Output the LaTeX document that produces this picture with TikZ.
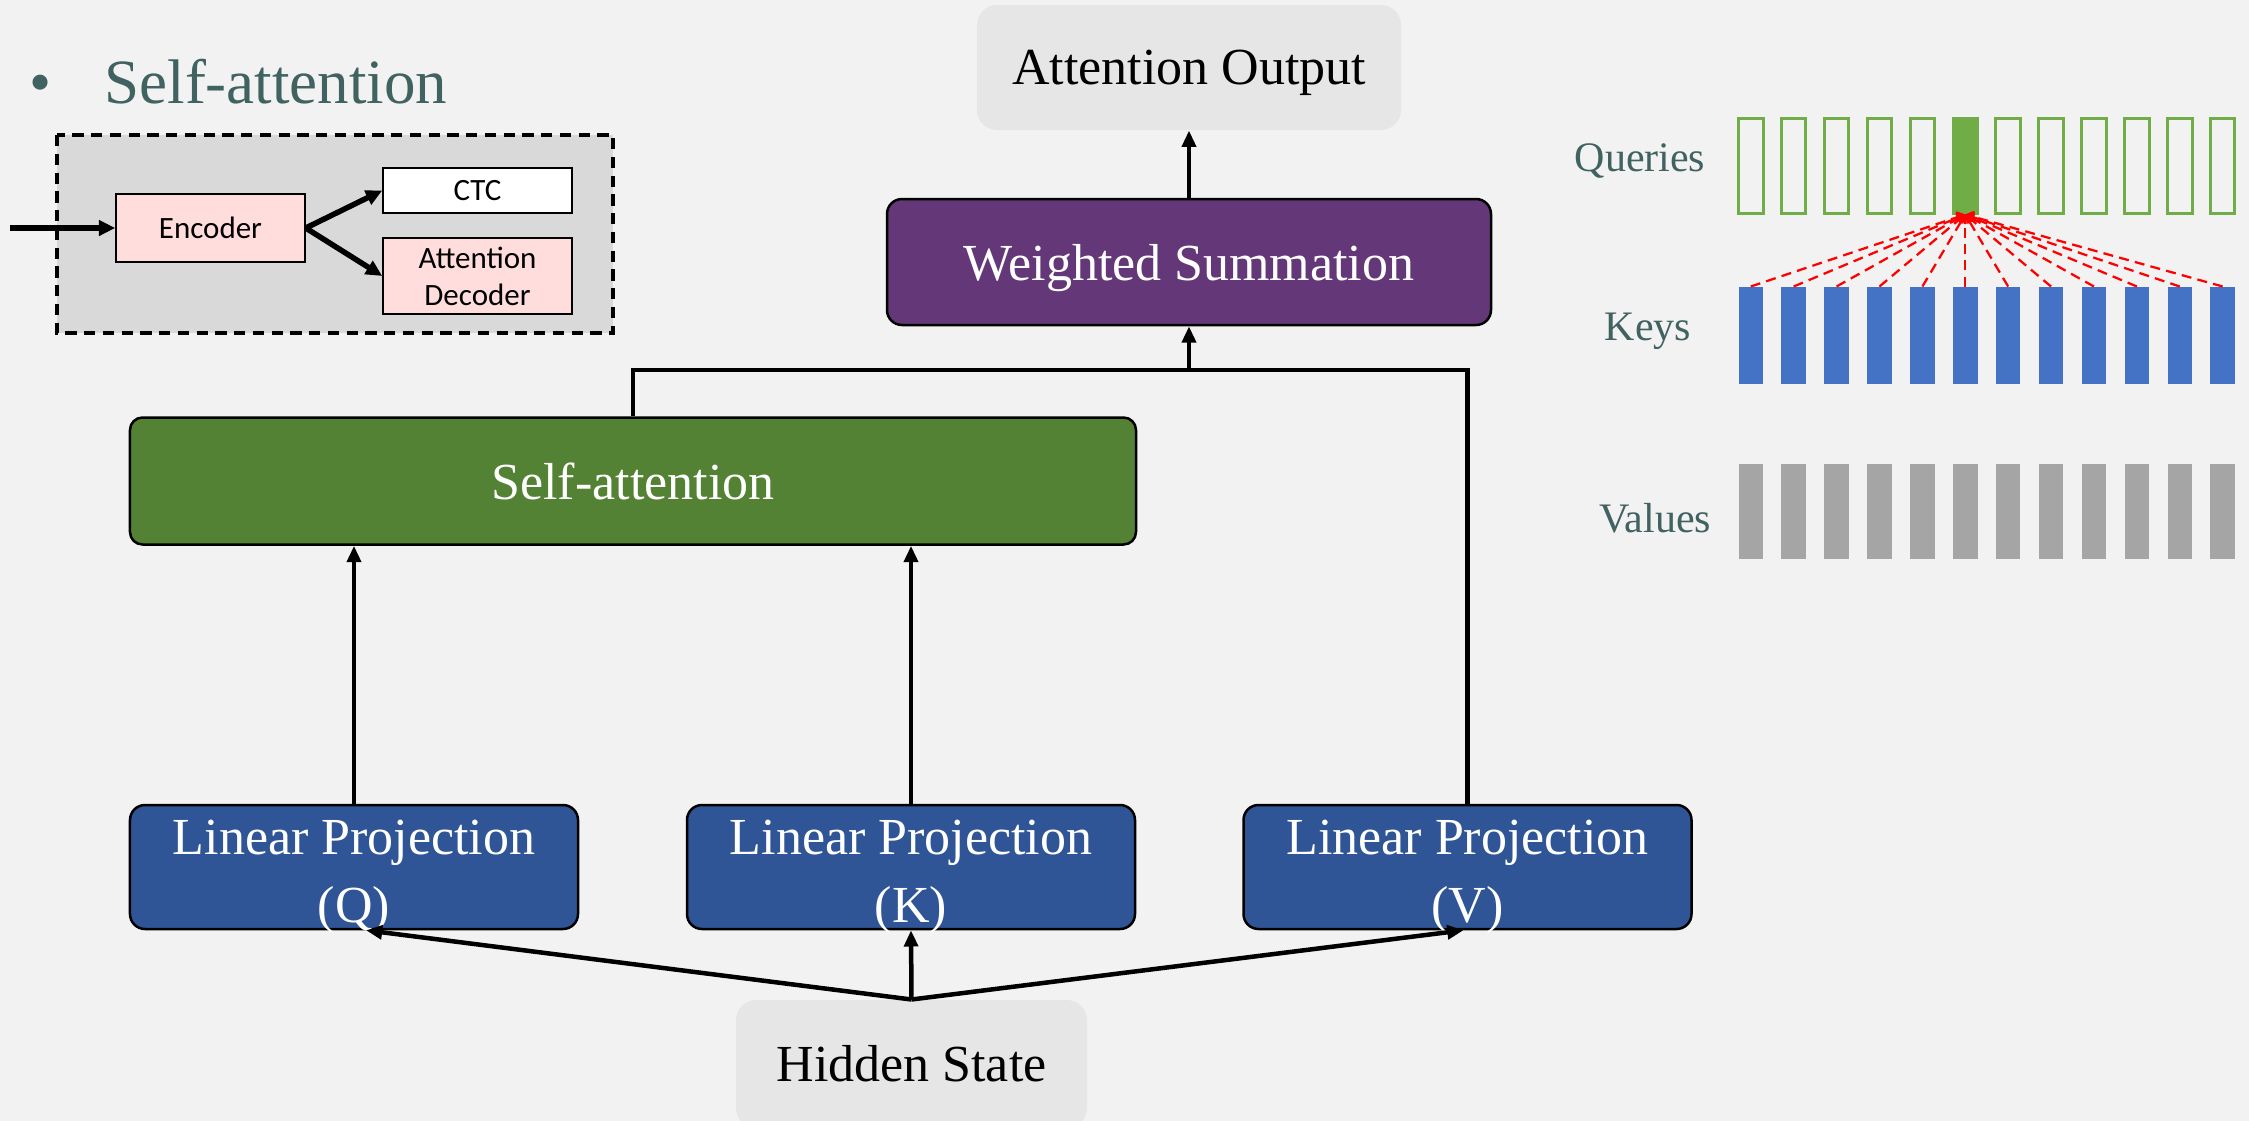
\documentclass[tikz,border=0pt]{standalone}
\usepackage{fontspec}
\setmainfont{Liberation Serif}
\newfontfamily\calibri{Carlito}
\usetikzlibrary{arrows.meta}

\definecolor{bgcol}{HTML}{F2F2F2}
\definecolor{softgray}{HTML}{E7E6E6}
\definecolor{boxgray}{HTML}{D9D9D9}
\definecolor{slate}{RGB}{64,98,96}
\definecolor{sumpurple}{RGB}{100,56,120}
\definecolor{attgreen}{HTML}{548235}
\definecolor{projblue}{HTML}{2F5597}
\definecolor{keyblue}{HTML}{4472C4}
\definecolor{qgreen}{HTML}{70AD47}
\definecolor{valgray}{HTML}{A5A5A5}
\definecolor{encpink}{HTML}{FFDDDD}

\begin{document}
\begin{tikzpicture}[x=0.4pt,y=0.4pt,yscale=-1,
    bigtxt/.style={font=\fontsize{20.8}{27.2}\selectfont},
    block/.style={draw=black,line width=1pt,rounded corners=6pt,inner sep=0pt,text=white,bigtxt,align=center},
    proj/.style={block,fill=projblue,minimum width=179.2pt,minimum height=49.6pt,text height=44pt,text depth=0pt},
    plain/.style={fill=softgray,rounded corners=8pt,inner sep=0pt,bigtxt},
    line/.style={line width=1.8pt},
    arr/.style={line width=1.8pt,-{Triangle[length=6.5pt,width=5.5pt]}},
    small/.style={draw=black,line width=0.6pt,inner sep=0pt,minimum width=75.6pt,align=center,font=\calibri\fontsize{12.4}{14.8}\selectfont},
    encarr/.style={line width=2.2pt,-{Triangle[length=6.5pt,width=6pt]}},
    bar/.style={inner sep=0pt,minimum width=9.8pt,minimum height=38pt},
    side/.style={text=slate,font=\fontsize{16.8}{20}\selectfont},
    attn/.style={red,line width=0.9pt,dash pattern={on 4pt off 2.5pt},-{Straight Barb[length=2.5pt,width=4pt]}}]
\useasboundingbox (0,0) rectangle (2249,1121);
\clip (0,0) rectangle (2249,1121);
\fill[bgcol] (0,0) rectangle (2249,1121);

\node[anchor=base,text=slate,font=\fontsize{25.2}{30}\selectfont] (bul) at (41,103) {\textbullet};
\node[anchor=base west,inner sep=0pt,text=slate,font=\fontsize{25.2}{30}\selectfont] (title) at (104,103) {Self-attention};

\draw[fill=boxgray,line width=1.4pt,dash pattern={on 4.5pt off 3pt}] (57,135) rectangle (613,333);
\node[small,fill=encpink,minimum height=27.2pt] (enc) at (210.5,228) {Encoder};
\node[small,fill=white,minimum height=18pt] (ctc) at (477.5,190.5) {CTC};
\node[small,fill=encpink,minimum height=30.4pt] (dec) at (477.5,276) {Attention\\Decoder};
\coordinate (in) at (10,228);
\draw[encarr] (in) -- (enc.west);
\draw[encarr] (enc.east) -- (ctc.west);
\draw[encarr] (enc.east) -- (dec.west);

\node[plain,minimum width=169.6pt,minimum height=50pt,text depth=0pt] (ao) at (1189,67.5) {Attention Output};
\node[block,fill=sumpurple,minimum width=241.6pt,minimum height=50.4pt,text depth=0pt] (ws) at (1189,262) {Weighted Summation};
\node[block,fill=attgreen,minimum width=402.4pt,minimum height=50.8pt,rounded corners=5pt] (sa) at (633,481) {Self-attention};
\node[proj] (lpq) at (354,867) {Linear Projection\\(Q)};
\node[proj] (lpk) at (911,867) {Linear Projection\\(K)};
\node[proj] (lpv) at (1467.5,867) {Linear Projection\\(V)};
\node[plain,minimum width=140.4pt,minimum height=51.2pt] (hs) at (911.5,1064) {Hidden State};

\coordinate (jn) at (1189,370);
\draw[line] (sa.north) |- (jn);
\draw[line] (lpv.north) |- (jn);
\draw[arr] (jn) -- (ws.south);
\draw[arr] (ws.north) -- (ao.south);
\draw[arr] (lpq.north) -- (lpq.north |- sa.south);
\draw[arr] (lpk.north) -- (lpk.north |- sa.south);
\draw[arr] (hs.north) -- ([xshift=4.8pt]lpq.south);
\draw[arr] (hs.north) -- (lpk.south);
\draw[arr] (hs.north) -- ([xshift=-1.6pt]lpv.south);

\node[side] (qlab) at (1640,161) {Queries};
\node[side] (klab) at (1648,331) {Keys};
\node[side] (vlab) at (1655,518) {Values};
\foreach \i in {1,...,12} {
  \node[bar,draw=qgreen,line width=1.2pt] (q\i) at ({1750.75+(\i-1)*42.9},165.5) {};
  \node[bar,fill=keyblue,minimum height=38.8pt] (k\i) at ({1750.75+(\i-1)*42.9},335.5) {};
  \node[bar,fill=valgray] (v\i) at ({1750.75+(\i-1)*42.9},511.5) {};
}
\fill[qgreen] (q6.south west) rectangle (q6.north east);
\foreach \i in {1,...,12}
  \draw[attn] (k\i.north) -- (q6.south);
\end{tikzpicture}
\end{document}
